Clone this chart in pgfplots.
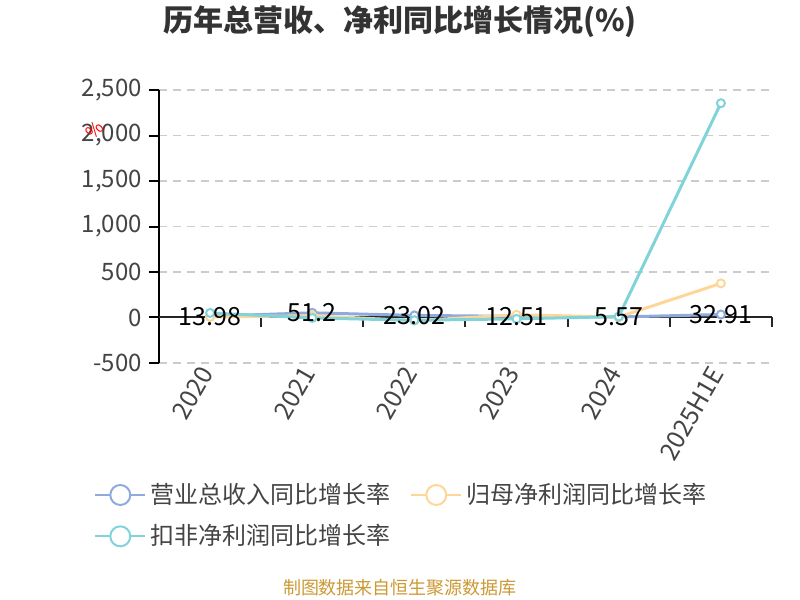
\documentclass[border=0pt]{standalone}
\usepackage{fontspec}
\setmainfont{Noto Sans CJK SC}
\usepackage{pgfplots}
\pgfplotsset{compat=1.18}

\definecolor{revblue}{HTML}{8FAADC}
\definecolor{netorange}{HTML}{FFD699}
\definecolor{adjcyan}{HTML}{80D4D9}
\definecolor{ticktext}{HTML}{444444}
\definecolor{gridgray}{HTML}{CCCCCC}
\definecolor{srcgold}{HTML}{CC9933}

\begin{document}
\begin{tikzpicture}
\path[use as bounding box] (0,0) rectangle (400pt,300pt);

\node[font=\bfseries\fontsize{15}{17}\selectfont, text=black!80] at (200pt,289pt) {历年总营收、净利同比增长情况(\%)};

\begin{axis}[
  at={(79.5pt,118.5pt)}, anchor=south west,
  scale only axis,
  width=306.5pt, height=136.5pt,
  xmin=-0.5, xmax=5.5,
  ymin=-500, ymax=2500,
  clip=false,
  axis lines*=left,
  x axis line style={draw=none},
  y axis line style={black, line width=1pt},
  xtick={0,1,2,3,4,5},
  xticklabels={2020,2021,2022,2023,2024,2025H1E},
  xtick style={draw=none},
  x tick label style={rotate=60, anchor=east, font=\fontsize{12.5}{14}\selectfont, text=ticktext},
  ytick={-500,0,500,1000,1500,2000,2500},
  ytick align=outside,
  major tick length=5pt,
  ytick style={black, line width=1pt},
  y tick label style={font=\fontsize{12}{14}\selectfont, text=ticktext},
  /pgf/number format/assume math mode=true,
  /pgf/number format/1000 sep={,},
  ymajorgrids=true,
  grid style={gridgray, line width=0.8pt, dash pattern=on 4pt off 3pt},
  legend columns=2,
  legend style={draw=none, fill=none, at={(-0.116,-0.41)}, anchor=north west,
    font=\fontsize{12}{14}\selectfont, text=ticktext,
    row sep=5pt,
    /tikz/every even column/.append style={column sep=8pt}},
  legend cell align=left,
  legend image code/.code={
    \draw[#1, mark=none, line width=1pt] (0pt,0pt) -- (25pt,0pt);
    \draw[#1, mark=none, fill=white, line width=1pt] (12.5pt,0pt) circle (5pt);
  },
]

% zero line with ticks between categories
\draw[black!85, line width=1pt] (axis cs:-0.5,0) -- (axis cs:5.5,0);
\pgfplotsinvokeforeach{0.5,1.5,2.5,3.5,4.5,5.5}{
  \draw[black!85, line width=1pt] (axis cs:#1,0) -- ++(0pt,-5pt);
}

\addplot[color=revblue, line width=1.5pt, mark=*, mark size=2pt,
  mark options={fill=white, line width=1pt}]
coordinates {(0,13.98)(1,51.2)(2,23.02)(3,12.51)(4,5.57)(5,32.91)};

\addplot[color=netorange, line width=1.5pt, mark=*, mark size=2pt,
  mark options={fill=white, line width=1pt}]
coordinates {(0,5)(1,20)(2,-35)(3,30)(4,5)(5,375)};

\addplot[color=adjcyan, line width=1.5pt, mark=*, mark size=2pt,
  mark options={fill=white, line width=1pt}]
coordinates {(0,50)(1,-5)(2,-30)(3,-15)(4,10)(5,2355)};

% value labels of the revenue series, drawn on top
\addplot[draw=none, forget plot, point meta=explicit symbolic,
  nodes near coords, nodes near coords align={center},
  every node near coord/.append style={font=\fontsize{12.5}{14}\selectfont, text=black, anchor=center}]
coordinates {(0,13.98)[13.98] (1,51.2)[51.2] (2,23.02)[23.02] (3,12.51)[12.51] (4,5.57)[5.57] (5,32.91)[32.91]};

\legend{营业总收入同比增长率, 归母净利润同比增长率, 扣非净利润同比增长率}
\end{axis}

\node[text=red, rotate=45, font=\fontsize{9}{10}\selectfont] at (47.5pt,235pt) {\%};

\node[text=srcgold, font=\fontsize{9}{10}\selectfont] at (200pt,6pt) {制图数据来自恒生聚源数据库};
\end{tikzpicture}
\end{document}
